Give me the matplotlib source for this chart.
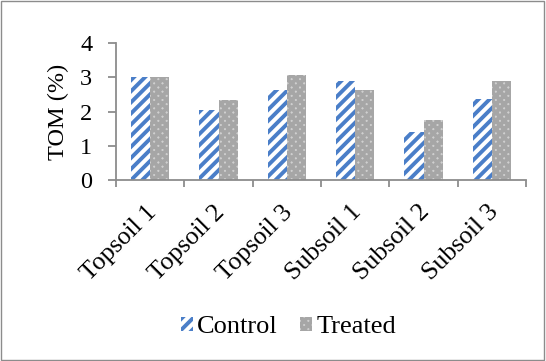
import numpy as np
import matplotlib.pyplot as plt
from matplotlib.patches import Rectangle

plt.rcParams['font.family'] = ['Liberation Serif', 'DejaVu Serif']
plt.rcParams['hatch.linewidth'] = 2.8

# total organic matter per soil sample
samples = ["Topsoil 1", "Topsoil 2", "Topsoil 3", "Subsoil 1", "Subsoil 2", "Subsoil 3"]
control = [3.00, 2.05, 2.63, 2.89, 1.39, 2.37]
treated = [3.00, 2.34, 3.07, 2.63, 1.75, 2.89]

fig = plt.figure(figsize=(5.46, 3.61), dpi=100)
fig.patches.append(Rectangle((0.002, 0.003), 0.995, 0.994, transform=fig.transFigure,
                             fill=False, edgecolor="#8c8c8c", linewidth=1.0))
ax = fig.add_axes([0.2125, 0.502, 0.751, 0.378])

x = np.arange(len(samples))
w = 0.28
ax.bar(x - w / 2, control, w, facecolor="white", edgecolor="#4a7ec8",
       hatch="///", linewidth=0, label="Control")
ax.bar(x + w / 2, treated, w, facecolor="#d0d0d0", edgecolor="#a6a6a6",
       hatch="xxxx", linewidth=0, label="Treated")

ax.set_xlim(-0.5, len(samples) - 0.5)
ax.set_ylim(0, 4)
ax.set_yticks([0, 1, 2, 3, 4])
# category boundaries carry the tick marks
ax.set_xticks(np.arange(-0.5, len(samples), 1.0))
ax.set_xticklabels([])

# rotated category names, hung below each group
for xi, name in zip(x, samples):
    ax.annotate(name, xy=(xi, 0), xycoords="data", xytext=(2, -21),
                textcoords="offset points", rotation=45, rotation_mode="anchor",
                ha="right", va="center", fontsize=18.5, annotation_clip=False)

ax.tick_params(axis="x", length=5, width=1.3, color="#8c8c8c")
ax.tick_params(axis="y", length=6, width=1.3, color="#8c8c8c", labelsize=17.5, pad=11)
ax.set_ylabel("TOM (%)", fontsize=17.5, labelpad=8)

for side in ("top", "right"):
    ax.spines[side].set_visible(False)
for side in ("left", "bottom"):
    ax.spines[side].set_color("#8c8c8c")
    ax.spines[side].set_linewidth(1.3)

fig.legend(loc="center", bbox_to_anchor=(0.528, 0.093), ncol=2, frameon=False,
           fontsize=19, handlelength=0.45, handleheight=0.45, handletextpad=0.15,
           columnspacing=0.87)

fig.savefig("out.png", dpi=100)
